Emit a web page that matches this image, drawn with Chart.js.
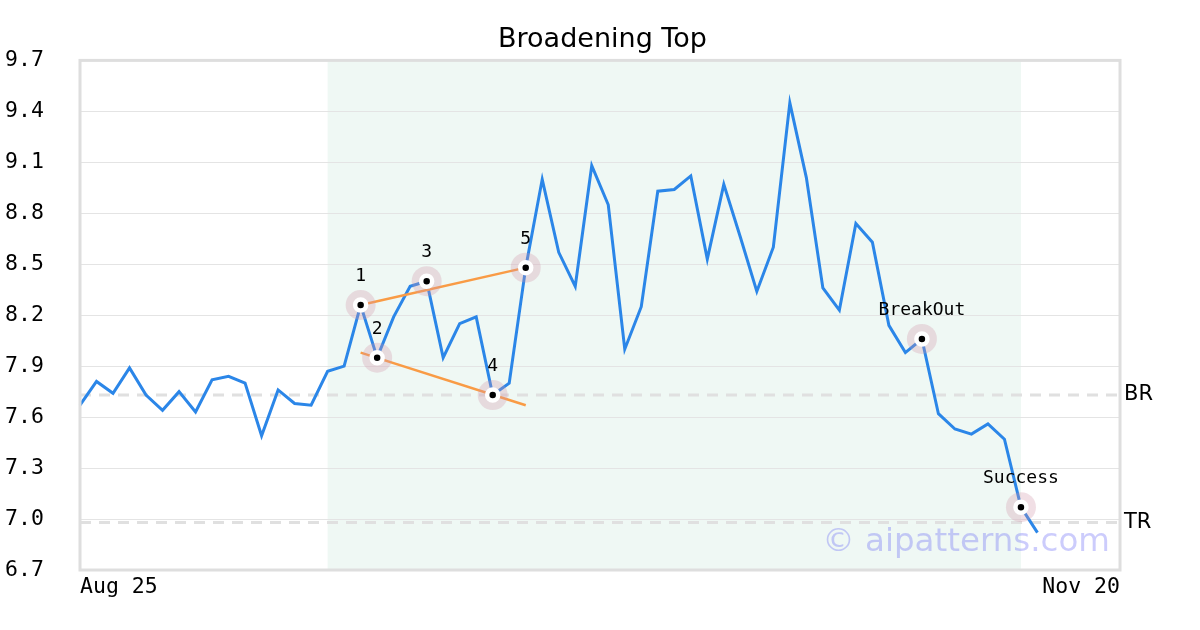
<!DOCTYPE html>
<html>
<head>
<meta charset="utf-8">
<title>Broadening Top</title>
<script src="https://cdn.jsdelivr.net/npm/chart.js@4.4.1/dist/chart.umd.min.js"></script>
<style>
  html, body { margin: 0; padding: 0; background: #fff; }
  #wrap { width: 1200px; height: 630px; }
</style>
</head>
<body>
<div id="wrap"><canvas id="chart" width="1200" height="630"></canvas></div>
<script>
// daily closes, one per trading day from Aug 25
const prices = [
  7.67, 7.81, 7.74, 7.89, 7.73, 7.64, 7.75, 7.63, 7.82, 7.84,
  7.80, 7.49, 7.76, 7.68, 7.67, 7.87, 7.90, 8.26, 7.95, 8.19,
  8.37, 8.40, 7.95, 8.15, 8.19, 7.73, 7.80, 8.48, 9.00, 8.57,
  8.37, 9.08, 8.85, 8.00, 8.25, 8.93, 8.94, 9.02, 8.53, 8.97,
  8.66, 8.34, 8.60, 9.45, 9.01, 8.36, 8.23, 8.74, 8.63, 8.14,
  7.98, 8.06, 7.62, 7.53, 7.50, 7.56, 7.47, 7.07, 6.92
];
const slotCount = 64; // trading days Aug 25 .. Nov 20
const xTickLabels = ['Aug 25', 'Nov 20'];
const yTickValues = [6.7, 7.0, 7.3, 7.6, 7.9, 8.2, 8.5, 8.8, 9.1, 9.4, 9.7];

const refLevels = [7.73, 6.98];
const refNames = ['BR', 'TR'];

const markerIdx = [17, 18, 21, 25, 27, 51, 57];
const markerNames = ['1', '2', '3', '4', '5', 'BreakOut', 'Success'];

const trendIdx = [17, 27];
const upperTrend = [8.26, 8.48];
const lowerTrend = [7.98, 7.67];

const shadeRange = [15, 57];

const labels = Array.from({ length: slotCount }, (_, i) => i);
const MONO = 'DejaVu Sans Mono';
const SANS = 'DejaVu Sans';

function sparse(idx, vals) {
  const out = labels.map(() => null);
  idx.forEach((k, j) => { out[k] = vals[j]; });
  return out;
}

const markerVals = markerIdx.map(i => prices[i]);

// plot background band, frame, watermark and marker captions
const decor = {
  id: 'decor',
  beforeDraw(chart) {
    const { ctx, chartArea: a, scales } = chart;
    const x0 = scales.x.getPixelForValue(shadeRange[0]);
    const x1 = scales.x.getPixelForValue(shadeRange[1]);
    ctx.save();
    ctx.fillStyle = '#eff8f4';
    ctx.fillRect(x0, a.top, x1 - x0, a.bottom - a.top);
    ctx.restore();
  },
  beforeDatasetsDraw(chart) {
    const { ctx, chartArea: a } = chart;
    ctx.save();
    ctx.font = '32.5px "' + SANS + '"';
    ctx.fillStyle = 'rgba(100,100,245,0.33)';
    ctx.textAlign = 'right';
    ctx.textBaseline = 'alphabetic';
    ctx.fillText('\u00a9 aipatterns.com', a.right - 10, a.bottom - 19);
    ctx.restore();
  },
  afterDatasetsDraw(chart) {
    const { ctx, chartArea: a } = chart;
    const meta = chart.getDatasetMeta(0);
    ctx.save();
    ctx.font = '18px "' + MONO + '"';
    ctx.fillStyle = '#000';
    ctx.textAlign = 'center';
    ctx.textBaseline = 'alphabetic';
    markerIdx.forEach((k, j) => {
      const p = meta.data[k];
      ctx.fillText(markerNames[j], p.x, p.y - 24);
    });
    ctx.strokeStyle = '#dedede';
    ctx.lineWidth = 3;
    ctx.strokeRect(a.left, a.top, a.right - a.left, a.bottom - a.top);
    ctx.restore();
  }
};

new Chart(document.getElementById('chart'), {
  type: 'line',
  data: {
    labels,
    // first dataset is drawn on top
    datasets: [
      {
        label: 'markers',
        data: sparse(markerIdx, markerVals),
        showLine: false,
        pointRadius: 5.5,
        pointBackgroundColor: '#000',
        pointBorderColor: '#fff',
        pointBorderWidth: 4.5
      },
      {
        label: 'halo',
        data: sparse(markerIdx, markerVals),
        showLine: false,
        pointRadius: 15,
        pointBackgroundColor: 'rgba(210,150,170,0.3)',
        pointBorderWidth: 0
      },
      {
        label: 'upper',
        data: sparse(trendIdx, upperTrend),
        spanGaps: true,
        borderColor: '#f99b45',
        borderWidth: 2.5,
        pointRadius: 0
      },
      {
        label: 'lower',
        data: sparse(trendIdx, lowerTrend),
        spanGaps: true,
        borderColor: '#f99b45',
        borderWidth: 2.5,
        pointRadius: 0
      },
      {
        label: 'price',
        data: prices,
        borderColor: '#2b86e8',
        borderWidth: 3,
        pointRadius: 0,
        tension: 0
      },
      ...refLevels.map(v => ({
        label: 'ref',
        data: labels.map(() => v),
        borderColor: '#e0e0e0',
        borderWidth: 3,
        borderDash: [11, 8],
        pointRadius: 0
      }))
    ]
  },
  options: {
    responsive: false,
    animation: false,
    devicePixelRatio: 1,
    layout: { padding: { left: 5, right: 0, top: 0, bottom: 0 } },
    plugins: {
      legend: { display: false },
      tooltip: { enabled: false },
      title: {
        display: true,
        text: 'Broadening Top',
        color: '#000',
        font: { family: SANS, size: 27, weight: 'normal' },
        padding: { top: 24, bottom: 4 }
      }
    },
    scales: {
      x: {
        type: 'category',
        offset: false,
        grid: { display: false, drawTicks: false },
        border: { display: false },
        afterBuildTicks: s => { s.ticks = [{ value: 0 }, { value: slotCount - 1 }]; },
        afterFit: s => { s.height = 60; },
        ticks: {
          autoSkip: false,
          maxRotation: 0,
          minRotation: 0,
          align: 'inner',
          padding: 5,
          color: '#000',
          font: { family: MONO, size: 21.5 },
          callback: (v, i) => xTickLabels[i]
        }
      },
      y: {
        position: 'left',
        min: 6.7,
        max: 9.7,
        grid: { color: '#e4e4e4', lineWidth: 1, drawTicks: false },
        border: { display: false },
        afterBuildTicks: s => { s.ticks = yTickValues.map(v => ({ value: v })); },
        afterFit: s => { s.width = 75; },
        ticks: {
          crossAlign: 'far',
          color: '#000',
          font: { family: MONO, size: 21.5 },
          callback: v => v.toFixed(1)
        }
      },
      y2: {
        position: 'right',
        min: 6.7,
        max: 9.7,
        grid: { display: false, drawTicks: false },
        border: { display: false },
        afterBuildTicks: s => { s.ticks = refLevels.map(v => ({ value: v })); },
        afterFit: s => { s.width = 80; },
        ticks: {
          padding: 4,
          color: '#000',
          font: { family: SANS, size: 21 },
          callback: (v, i) => refNames[i]
        }
      }
    }
  },
  plugins: [decor]
});
</script>
</body>
</html>
